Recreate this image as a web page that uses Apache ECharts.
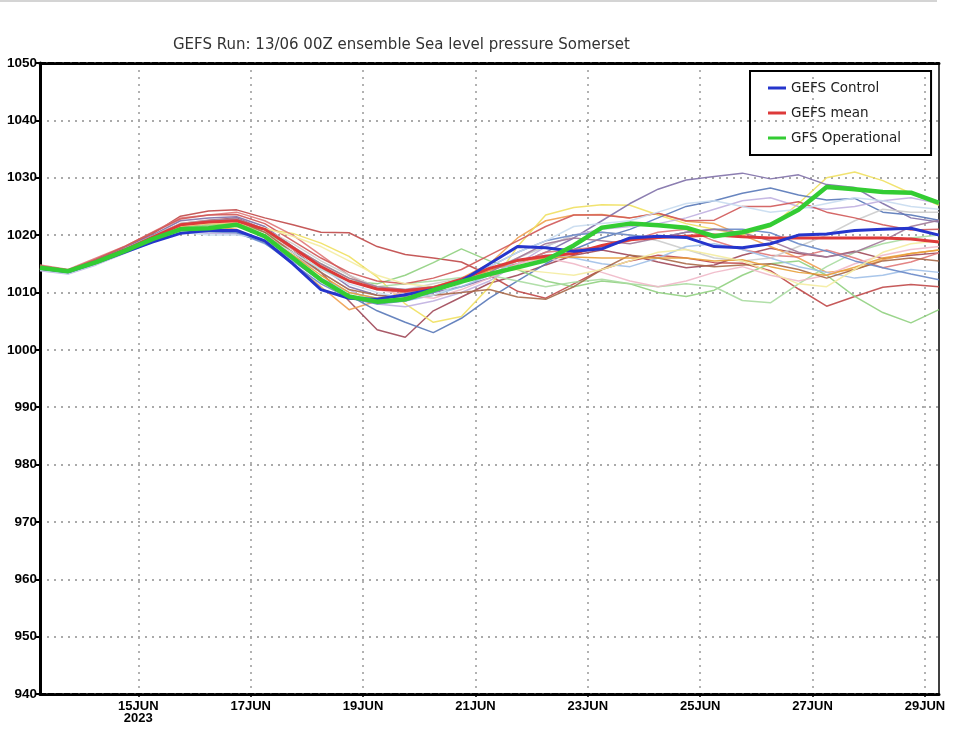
<!DOCTYPE html>
<html>
<head>
<meta charset="utf-8">
<script src="https://cdn.jsdelivr.net/npm/echarts@6/dist/echarts.min.js"></script>
<style>html,body{margin:0;padding:0;background:#fff;}#c{width:964px;height:750px;}</style>
</head>
<body>
<div id="c"></div>
<script>
// forecast hours since 13JUN 00Z (12-hourly)
const hours = [6,18,30,42,54,66,78,90,102,114,126,138,150,162,174,186,198,210,222,234,246,258,270,282,294,306,318,330,342,354,366,378,390];
const tickHours = [48,96,144,192,240,288,336,384];
const tickLabels = ['15JUN\n2023','17JUN','19JUN','21JUN','23JUN','25JUN','27JUN','29JUN'];

const gfsOperational = [1014.3,1013.7,1015.3,1017.2,1019.3,1021.0,1021.2,1021.8,1019.8,1016.0,1012.2,1009.3,1008.4,1008.8,1010.4,1011.9,1013.2,1014.4,1015.6,1018.2,1021.3,1022.0,1021.7,1021.3,1019.8,1020.5,1021.8,1024.4,1028.4,1028.0,1027.5,1027.4,1025.6];
const gefsControl = [1014.2,1013.6,1015.2,1017.0,1018.8,1020.3,1020.8,1020.8,1019.0,1015.0,1010.5,1009.0,1008.8,1009.6,1010.5,1012.0,1015.0,1018.0,1017.8,1017.2,1017.6,1019.5,1019.8,1019.6,1018.0,1017.8,1018.5,1020.0,1020.2,1020.8,1021.0,1021.2,1020.0];
const gefsMean = [1014.2,1013.7,1015.4,1017.4,1019.6,1021.8,1022.3,1022.5,1021.0,1017.8,1014.5,1012.0,1010.6,1010.3,1010.8,1012.3,1014.2,1015.6,1016.3,1016.8,1018.2,1019.2,1019.6,1019.8,1020.0,1019.7,1019.5,1019.5,1019.5,1019.5,1019.5,1019.3,1018.8];

const memA = [1014.5,1013.8,1015.6,1017.8,1020.2,1023.3,1024.2,1024.4,1023.0,1021.8,1020.5,1020.4,1018.0,1016.6,1016.0,1015.3,1013.0,1010.2,1009.0,1011.5,1014.0,1015.5,1016.5,1016.0,1015.2,1015.1,1013.8,1010.6,1007.6,1009.3,1010.9,1011.4,1011.0];
const memB = [1014.2,1013.5,1015.2,1017.5,1019.8,1022.0,1022.6,1023.0,1021.0,1017.5,1013.5,1008.5,1003.5,1002.2,1006.8,1009.2,1011.6,1013.0,1014.8,1016.5,1017.4,1016.5,1015.3,1014.3,1014.8,1016.5,1017.7,1016.8,1016.2,1017.2,1015.9,1016.5,1016.9];
const memC = [1014.0,1013.4,1015.0,1017.0,1019.0,1021.0,1021.5,1021.0,1018.8,1015.0,1011.0,1007.0,1008.5,1010.2,1011.0,1012.5,1015.0,1019.5,1022.5,1023.5,1023.6,1023.0,1023.8,1022.4,1022.0,1020.0,1018.0,1016.0,1013.5,1014.0,1015.7,1016.8,1017.4];
const memD = [1014.3,1013.7,1015.3,1017.3,1019.5,1021.5,1022.0,1021.5,1021.0,1020.3,1018.6,1016.3,1012.7,1008.0,1004.8,1005.8,1011.0,1018.0,1023.5,1024.8,1025.3,1025.2,1023.5,1022.0,1021.0,1020.0,1021.5,1025.5,1030.0,1031.0,1029.5,1027.3,1025.2];
const memE = [1014.6,1013.9,1015.8,1017.8,1020.0,1022.5,1023.0,1023.2,1021.5,1018.0,1014.5,1011.0,1009.5,1009.3,1010.0,1011.0,1012.5,1015.0,1017.0,1019.5,1022.5,1025.5,1028.0,1029.6,1030.2,1030.8,1029.8,1030.5,1028.8,1028.3,1025.5,1023.0,1022.3];
const memF = [1014.0,1013.4,1015.0,1017.0,1019.2,1021.2,1021.0,1020.8,1019.0,1015.5,1012.0,1009.5,1006.8,1004.8,1003.0,1005.5,1009.0,1012.0,1015.0,1017.5,1019.5,1021.0,1023.0,1025.0,1026.0,1027.3,1028.2,1027.0,1026.1,1026.4,1024.0,1023.5,1022.6];
const memG = [1014.2,1013.6,1015.2,1017.2,1019.3,1021.3,1021.7,1021.8,1020.0,1017.0,1014.0,1012.0,1011.5,1013.0,1015.2,1017.6,1015.5,1014.0,1012.0,1011.0,1012.0,1011.5,1010.0,1009.3,1010.4,1013.0,1015.0,1015.5,1013.0,1009.3,1006.5,1004.7,1007.0];
const memH = [1014.4,1013.8,1015.5,1017.5,1019.6,1021.8,1022.2,1022.0,1020.5,1017.8,1015.0,1012.5,1011.0,1011.5,1012.0,1012.6,1013.0,1012.0,1011.0,1011.8,1012.3,1011.5,1011.0,1011.5,1011.0,1008.6,1008.2,1011.5,1014.5,1017.0,1018.5,1019.5,1020.0];
const memI = [1014.8,1014.0,1016.0,1018.0,1020.5,1023.0,1023.5,1024.0,1022.5,1020.0,1016.5,1013.0,1010.5,1010.0,1010.5,1012.0,1014.0,1015.0,1017.0,1017.5,1018.0,1019.0,1020.5,1021.0,1019.0,1017.5,1016.5,1016.2,1017.4,1016.0,1014.3,1015.3,1016.9];
const memJ = [1013.8,1013.2,1014.8,1016.8,1018.8,1020.5,1020.3,1020.2,1019.0,1016.5,1013.5,1010.5,1008.0,1007.5,1008.5,1010.0,1012.0,1015.0,1018.0,1020.0,1021.0,1021.5,1022.0,1023.0,1024.5,1026.0,1026.5,1025.0,1024.5,1025.0,1026.0,1026.5,1025.5];
const memK = [1014.1,1013.5,1015.1,1017.1,1019.2,1021.0,1021.0,1020.5,1018.5,1015.5,1012.5,1010.0,1009.0,1008.5,1009.5,1011.0,1013.0,1015.5,1016.5,1016.0,1015.0,1014.5,1016.0,1018.0,1018.5,1017.5,1016.0,1014.5,1013.5,1012.5,1013.0,1014.0,1013.5];
const memL = [1014.5,1013.8,1015.5,1017.6,1019.8,1022.0,1022.5,1022.8,1021.0,1018.5,1015.5,1013.0,1011.0,1010.5,1011.5,1012.5,1014.0,1016.0,1018.0,1020.0,1020.5,1020.0,1019.0,1017.5,1016.0,1015.5,1016.0,1018.0,1020.0,1022.5,1024.5,1024.0,1024.0];
const memM = [1014.0,1013.5,1015.0,1017.0,1019.0,1021.0,1021.5,1021.5,1020.0,1017.5,1014.5,1012.0,1010.5,1009.5,1009.0,1010.5,1012.5,1015.0,1016.0,1015.0,1013.5,1012.0,1011.0,1012.0,1013.5,1014.5,1013.0,1012.0,1013.0,1015.0,1016.5,1017.5,1018.0];
const memN = [1014.3,1013.6,1015.3,1017.4,1019.5,1021.5,1022.0,1022.5,1020.5,1017.0,1013.5,1010.5,1009.5,1009.0,1009.5,1010.0,1010.5,1009.2,1008.8,1011.0,1014.0,1016.5,1016.0,1015.0,1014.5,1014.8,1015.0,1014.0,1012.5,1014.0,1015.5,1016.0,1015.5];
const memO = [1014.2,1013.6,1015.2,1017.2,1019.4,1021.6,1022.0,1022.2,1020.0,1016.5,1013.0,1010.0,1009.0,1009.5,1010.5,1012.0,1013.8,1015.5,1016.0,1016.2,1016.0,1016.0,1016.0,1016.0,1015.5,1015.7,1014.5,1013.5,1013.0,1014.4,1016.0,1016.8,1017.4];
const memP = [1014.0,1013.4,1015.0,1017.0,1019.0,1020.8,1020.6,1020.4,1018.6,1015.0,1011.5,1009.0,1008.0,1008.5,1010.0,1012.0,1014.5,1017.0,1019.0,1020.0,1020.5,1020.0,1019.5,1020.5,1021.0,1021.0,1020.4,1018.5,1017.2,1015.5,1014.3,1013.2,1012.2];
const memQ = [1014.6,1013.9,1015.8,1018.0,1020.4,1022.8,1023.5,1023.6,1022.0,1019.0,1016.0,1013.5,1012.0,1011.5,1012.5,1014.0,1016.5,1019.0,1021.5,1023.5,1023.5,1023.0,1023.8,1022.5,1022.6,1025.0,1025.0,1025.8,1024.0,1023.0,1021.8,1020.9,1021.0];
const memR = [1014.4,1013.7,1015.4,1017.4,1019.5,1021.6,1022.0,1022.3,1021.2,1019.8,1018.0,1015.5,1013.0,1011.5,1011.0,1012.0,1013.5,1014.0,1013.5,1013.0,1014.0,1015.5,1017.0,1017.5,1016.5,1015.5,1013.5,1011.5,1011.0,1014.0,1017.0,1018.5,1019.0];
const memS = [1014.1,1013.5,1015.2,1017.3,1019.5,1021.8,1022.5,1022.8,1021.0,1018.0,1015.0,1012.5,1011.0,1010.5,1011.0,1012.0,1013.5,1016.0,1018.5,1019.5,1019.0,1018.5,1019.5,1020.5,1021.0,1020.4,1019.0,1017.0,1016.2,1017.0,1019.0,1021.5,1022.6];
const memT = [1013.9,1013.3,1014.9,1016.9,1019.0,1020.5,1020.0,1020.0,1019.5,1017.0,1014.0,1011.5,1010.0,1009.0,1009.5,1011.5,1014.5,1017.0,1019.0,1021.5,1022.0,1022.5,1024.0,1025.5,1026.0,1025.0,1024.0,1024.5,1025.5,1026.5,1026.0,1025.0,1024.5];

const members = [memA,memB,memC,memD,memE,memF,memG,memH,memI,memJ,memK,memL,memM,memN,memO,memP,memQ,memR,memS,memT];
const memberColors = ['#c04848','#a04858','#f0a050','#f0e060','#8070a8','#5878b8','#90d080','#a8dca0','#e07878','#c0b0e0','#a0c0e8','#cccccc','#f0b8c8','#a86848','#e8a038','#6888c8','#d05858','#f4eca0','#a07898','#c8dcf0'];

const hourCats = [];
for (let h = 6; h <= 390; h += 6) hourCats.push(String(h));
const isTick = (i, v) => tickHours.indexOf(Number(v)) >= 0;
const pairs = arr => arr.map((v, i) => [hours[i], v]);

const series = members.map((m, i) => ({
  name: 'm' + i, type: 'line', xAxisIndex: 0, yAxisIndex: 0, data: pairs(m),
  showSymbol: false, symbol: 'none', silent: true,
  lineStyle: { color: memberColors[i], width: 1.5, opacity: 0.9 }, itemStyle: { color: memberColors[i] }
}));
series.push({ name: 'GEFS mean', type: 'line', data: pairs(gefsMean), symbol: 'none',
  lineStyle: { color: '#dd3a3a', width: 3 }, itemStyle: { color: '#dd3a3a' } });
series.push({ name: 'GEFS Control', type: 'line', data: pairs(gefsControl), symbol: 'none',
  lineStyle: { color: '#2535cc', width: 3 }, itemStyle: { color: '#2535cc' } });
series.push({ name: 'GFS Operational', type: 'line', data: pairs(gfsOperational), symbol: 'none',
  lineStyle: { color: '#33cc33', width: 4.5 }, itemStyle: { color: '#33cc33' } });

const chart = echarts.init(document.getElementById('c'), null, { renderer: 'canvas' });
chart.setOption({
  animation: false,
  backgroundColor: '#fff',
  title: { text: 'GEFS Run: 13/06 00Z ensemble Sea level pressure Somerset', left: 168, top: 33,
    textStyle: { fontFamily: 'DejaVu Sans', fontSize: 15, fontWeight: 'normal', color: '#333' } },
  graphic: [{ type: 'rect', shape: { x: 0, y: 0, width: 937, height: 2 }, style: { fill: '#d4d4d4' } }],
  legend: {
    data: ['GEFS Control', 'GEFS mean', 'GFS Operational'],
    orient: 'vertical', left: 750, top: 71,
    padding: [10, 30, 10, 18], itemGap: 11, itemWidth: 18, itemHeight: 3, itemTextGap: 9,
    icon: 'rect', borderColor: '#000', borderWidth: 2, selectedMode: false,
    textStyle: { fontFamily: 'DejaVu Sans', fontSize: 13.5, color: '#222', lineHeight: 14 }
  },
  grid: { left: 40, top: 63, right: 25, bottom: 56, containLabel: false },
  xAxis: [
    { type: 'value', min: 6, max: 390, show: false },
    { type: 'category', data: hourCats, boundaryGap: false, position: 'bottom',
      axisLine: { show: true, lineStyle: { color: '#000', width: 3, type: [6, 2] } },
      axisTick: { show: true, interval: isTick, length: 3, lineStyle: { color: '#000', width: 1.5 } },
      axisLabel: { interval: isTick, margin: 6, color: '#000', fontFamily: 'Liberation Sans', fontWeight: 'bold', fontSize: 13, lineHeight: 12,
        formatter: v => tickLabels[tickHours.indexOf(Number(v))] },
      splitLine: { show: true, interval: isTick, lineStyle: { color: '#aaaaaa', width: 1.8, type: [2, 5] } } },
    { type: 'category', data: hourCats, boundaryGap: false, position: 'top',
      axisLine: { show: true, lineStyle: { color: '#000', width: 3, type: [6, 2] } },
      axisTick: { show: false }, axisLabel: { show: false }, splitLine: { show: false } }
  ],
  yAxis: [
    { type: 'value', min: 940, max: 1050, interval: 10,
      axisLine: { show: true, lineStyle: { color: '#000', width: 3 } },
      axisTick: { show: true, length: 4, lineStyle: { color: '#000', width: 2 } },
      axisLabel: { margin: 3, color: '#000', fontFamily: 'Liberation Sans', fontWeight: 'bold', fontSize: 13.5,
        formatter: v => String(v) },
      splitLine: { show: true, lineStyle: { color: '#aaaaaa', width: 1.8, type: [2, 5] } } },
    { type: 'value', min: 940, max: 1050, position: 'right',
      axisLine: { show: true, lineStyle: { color: '#000', width: 1.5 } },
      axisTick: { show: false }, axisLabel: { show: false }, splitLine: { show: false } }
  ],
  series: series
});
</script>
</body>
</html>
